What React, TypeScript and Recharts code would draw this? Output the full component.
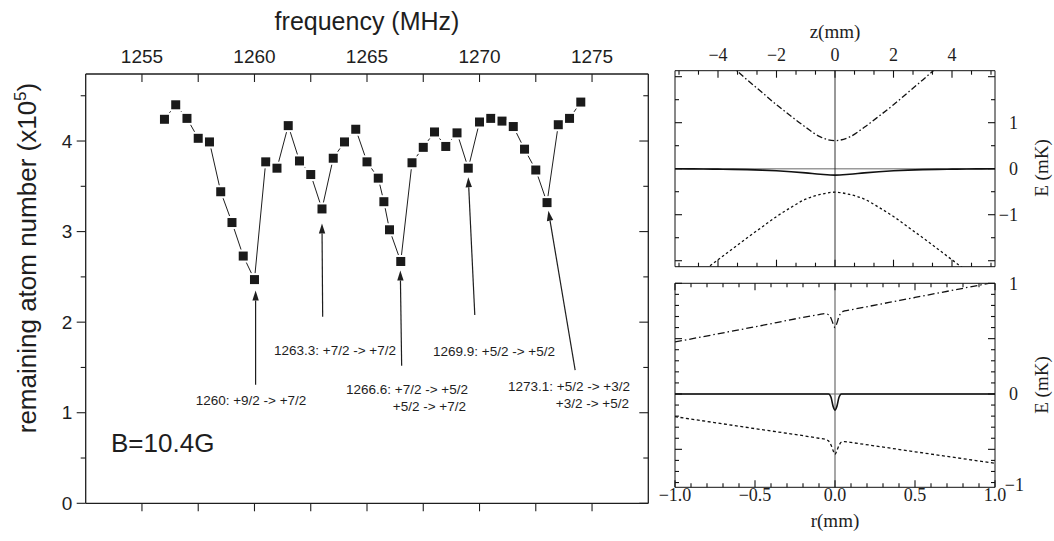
import React from "react";
import { ComposedChart, LineChart, Line, XAxis, YAxis, ReferenceLine } from "recharts";

// main panel: remaining atoms vs rf frequency
const freqs = [
  1256, 1256.5, 1257, 1257.5, 1258, 1258.5, 1259, 1259.5, 1260, 1260.5, 1261, 1261.5, 1262,
  1262.5, 1263, 1263.5, 1264, 1264.5, 1265, 1265.5, 1265.75, 1266, 1266.5, 1267, 1267.5, 1268,
  1268.5, 1269, 1269.5, 1270, 1270.5, 1271, 1271.5, 1272, 1272.5, 1273, 1273.5, 1274, 1274.5,
];
const atoms = [
  4.24, 4.4, 4.25, 4.03, 3.99, 3.44, 3.1, 2.73, 2.47, 3.77, 3.7, 4.17, 3.78, 3.63, 3.25, 3.81,
  3.99, 4.13, 3.77, 3.59, 3.33, 3.02, 2.67, 3.76, 3.93, 4.1, 3.94, 4.09, 3.7, 4.21, 4.25, 4.22,
  4.16, 3.91, 3.68, 3.32, 4.18, 4.25, 4.43,
];
const freqTicks = [1255, 1257.5, 1260, 1262.5, 1265, 1267.5, 1270, 1272.5, 1275];
const atomTicks = [0, 0.5, 1, 1.5, 2, 2.5, 3, 3.5, 4, 4.5];

// arrows (tail -> head) and their transition labels
const arrowTailFreq = [1260.05, 1263.03, 1266.54, 1269.79, 1274.25];
const arrowTailAtoms = [1.31, 2.06, 1.52, 2.08, 1.47];
const arrowHeadFreq = [1260.05, 1263.0, 1266.48, 1269.5, 1273.06];
const arrowHeadAtoms = [2.35, 3.09, 2.57, 3.6, 3.23];
const transitionLabels = [
  ["1260: +9/2 -> +7/2"],
  ["1263.3: +7/2 -> +7/2"],
  ["1266.6: +7/2 -> +5/2", "+5/2 -> +7/2"],
  ["1269.9: +5/2 -> +5/2"],
  ["1273.1: +5/2 -> +3/2", "+3/2 -> +5/2"],
];

// upper right: potential along z
const zVals = [-5.5, -5, -4.5, -4, -3.5, -3, -2.5, -2, -1.5, -1, -0.5, 0, 0.5, 1, 1.5, 2, 2.5, 3, 3.5, 4, 4.5, 5, 5.5];
const zUpper = [3.37, 3.08, 2.79, 2.5, 2.21, 1.93, 1.66, 1.39, 1.14, 0.9, 0.69, 0.61, 0.69, 0.9, 1.14, 1.39, 1.66, 1.93, 2.21, 2.5, 2.79, 3.08, 3.37];
const zMiddle = [0, -0.003, -0.006, -0.01, -0.014, -0.02, -0.03, -0.045, -0.065, -0.09, -0.12, -0.14, -0.12, -0.09, -0.065, -0.045, -0.03, -0.02, -0.014, -0.01, -0.006, -0.003, 0];
const zLower = [-2.7, -2.46, -2.22, -1.98, -1.74, -1.5, -1.27, -1.04, -0.84, -0.66, -0.56, -0.51, -0.56, -0.66, -0.84, -1.04, -1.27, -1.5, -1.74, -1.98, -2.22, -2.46, -2.7];
const zTicks = [-5.333, -4.667, -4, -3.333, -2.667, -2, -1.333, -0.667, 0, 0.667, 1.333, 2, 2.667, 3.333, 4, 4.667, 5.333];
const eTopTicks = [-2, -1.5, -1, -0.5, 0, 0.5, 1, 1.5, 2];

// lower right: potential along r
const rVals = [-1, -0.5, -0.1, -0.06, -0.04, -0.025, -0.012, 0, 0.012, 0.025, 0.04, 0.06, 0.1, 0.5, 1];
const rUpper = [0.47, 0.607, 0.717, 0.726, 0.715, 0.685, 0.635, 0.6, 0.64, 0.7, 0.735, 0.75, 0.761, 0.872, 1.01];
const rMiddle = [0, 0, 0, 0, 0, -0.03, -0.11, -0.145, -0.11, -0.03, 0, 0, 0, 0, 0];
const rLower = [-0.205, -0.313, -0.4, -0.41, -0.425, -0.46, -0.51, -0.545, -0.51, -0.465, -0.435, -0.43, -0.438, -0.522, -0.626];
const rTicks = [-1, -0.9, -0.8, -0.7, -0.6, -0.5, -0.4, -0.3, -0.2, -0.1, 0, 0.1, 0.2, 0.3, 0.4, 0.5, 0.6, 0.7, 0.8, 0.9, 1];
const eBottomTicks = [-0.8, -0.7, -0.6, -0.5, -0.4, -0.3, -0.2, -0.1, 0, 0.1, 0.2, 0.3, 0.4, 0.5, 0.6, 0.7, 0.8, 0.9, 1];

const SANS = "'Liberation Sans', Arial, Helvetica, sans-serif";
const SERIF = "'Liberation Serif', 'Times New Roman', serif";
const INK = "#1e1e1e";

const minus = (s: string) => s.replace("-", "\u2212");

type Side = "top" | "bottom" | "left" | "right";

// tickSize/tickMargin are 0, so (x, y) is the point on the axis line
function makeTick(
  side: Side,
  inward: boolean,
  isMajor: (v: number) => boolean,
  majorLen: number,
  minorLen: number,
  label: ((v: number) => string | null) | null,
  gap: number,
  font: string,
  size: number,
  stroke: string,
  anchor = "middle"
) {
  return (props: any) => {
    const { x, y, payload } = props;
    const v = payload.value as number;
    const len = isMajor(v) ? majorLen : minorLen;
    const s = inward ? 1 : -1;
    let x2 = x;
    let y2 = y;
    if (side === "top") y2 = y + s * len;
    if (side === "bottom") y2 = y - s * len;
    if (side === "left") x2 = x + s * len;
    if (side === "right") x2 = x - s * len;
    const text = label ? label(v) : null;
    let tx = x;
    let ty = y;
    let ta = anchor;
    if (side === "top") ty = y - gap;
    if (side === "bottom") ty = y + gap;
    if (side === "left") {
      tx = x - gap;
      ta = "end";
      ty = y + size * 0.35;
    }
    if (side === "right") {
      tx = x + gap;
      ty = y + size * 0.35;
    }
    return (
      <g>
        {len > 0 && <line x1={x} y1={y} x2={x2} y2={y2} stroke={stroke} strokeWidth={1.1} />}
        {text && (
          <text x={tx} y={ty} textAnchor={ta} fontFamily={font} fontSize={size} fill={INK}>
            {text}
          </text>
        )}
      </g>
    );
  };
}

const isInt = (v: number) => Math.abs(v - Math.round(v)) < 1e-3;
const isHalf = (v: number) => Math.abs(v * 2 - Math.round(v * 2)) < 1e-3;

const SquareDot = (props: any) => {
  const { cx, cy, index } = props;
  if (cx == null || cy == null) return <g key={`d-${index}`} />;
  return (
    <g key={`d-${index}`}>
      <rect x={cx - 6.5} y={cy - 6.5} width={13} height={13} fill="#fff" />
      <rect x={cx - 4.5} y={cy - 4.5} width={9} height={9} fill="#1a1a1a" />
    </g>
  );
};

const Arrow = (p: any) => {
  const { x1, y1, x2, y2 } = p;
  const dx = x2 - x1;
  const dy = y2 - y1;
  const len = Math.hypot(dx, dy) || 1;
  const ux = dx / len;
  const uy = dy / len;
  const hl = 10;
  const hw = 3.2;
  const bx = x2 - ux * hl;
  const by = y2 - uy * hl;
  return (
    <g>
      <line x1={x1} y1={y1} x2={bx} y2={by} stroke={INK} strokeWidth={1.2} />
      <polygon
        points={`${x2},${y2} ${bx - uy * hw},${by + ux * hw} ${bx + uy * hw},${by - ux * hw}`}
        fill={INK}
      />
    </g>
  );
};

// pixel anchors for the transition texts [x, y baseline, anchor]
const labelSpots: [number, number, string][][] = [
  [[251, 405, "middle"]],
  [[335, 355, "middle"]],
  [[468, 394, "end"], [466, 411, "end"]],
  [[494, 356, "middle"]],
  [[630, 391, "end"], [629, 408, "end"]],
];

export default function App() {
  const mainRows = freqs.map((f, i) => ({ f, n: atoms[i] }));
  const zRows = zVals.map((z, i) => ({ z, up: zUpper[i], mid: zMiddle[i], lo: zLower[i] }));
  const rRows = rVals.map((r, i) => ({ r, up: rUpper[i], mid: rMiddle[i], lo: rLower[i] }));

  const mainAxisLine = { stroke: INK, strokeWidth: 1.3 };
  const panelAxisLine = { stroke: "#111", strokeWidth: 1 };
  const all = () => true;

  // every axis is 1px thick, so margins are the plot edges minus 1
  return (
    <div style={{ position: "absolute", left: 0, top: 0, width: 1054, height: 541, background: "#fff" }}>
      {/* main chart */}
      <div style={{ position: "absolute", left: 0, top: 0 }}>
        <ComposedChart
          width={1054}
          height={541}
          data={mainRows}
          margin={{ top: 73, right: 404.7, bottom: 36.7, left: 84.7 }}
        >
          <XAxis
            xAxisId="top"
            orientation="top"
            dataKey="f"
            type="number"
            domain={[1252.5, 1277.5]}
            allowDataOverflow
            ticks={freqTicks}
            interval={0}
            height={1}
            tickSize={0}
            tickMargin={0}
            tickLine={false}
            axisLine={mainAxisLine}
            tick={makeTick("top", true, all, 8, 8, (v) => (isInt(v / 5) ? String(v) : null), 11, SANS, 19, INK)}
          />
          <XAxis
            xAxisId="bottom"
            orientation="bottom"
            dataKey="f"
            type="number"
            domain={[1252.5, 1277.5]}
            allowDataOverflow
            ticks={freqTicks}
            interval={0}
            height={1}
            tickSize={0}
            tickMargin={0}
            tickLine={false}
            axisLine={mainAxisLine}
            tick={makeTick("bottom", false, all, 8, 8, null, 0, SANS, 19, INK)}
          />
          <YAxis
            yAxisId="left"
            orientation="left"
            type="number"
            domain={[0, 4.74]}
            allowDataOverflow
            ticks={atomTicks}
            interval={0}
            width={1}
            tickSize={0}
            tickMargin={0}
            tickLine={false}
            axisLine={mainAxisLine}
            tick={makeTick("left", false, isInt, 9, 5, (v) => (isInt(v) ? String(v) : null), 13.4, SANS, 19, INK)}
          />
          <YAxis
            yAxisId="right"
            orientation="right"
            type="number"
            domain={[0, 4.74]}
            allowDataOverflow
            ticks={atomTicks}
            interval={0}
            width={1}
            tickSize={0}
            tickMargin={0}
            tickLine={false}
            axisLine={mainAxisLine}
            tick={makeTick("right", true, isInt, 9, 5, null, 0, SANS, 19, INK)}
          />
          {arrowTailFreq.map((f, i) => (
            <ReferenceLine
              key={`arrow-${i}`}
              xAxisId="top"
              yAxisId="left"
              segment={[
                { x: f, y: arrowTailAtoms[i] },
                { x: arrowHeadFreq[i], y: arrowHeadAtoms[i] },
              ]}
              ifOverflow="visible"
              shape={Arrow}
            />
          ))}
          <Line
            xAxisId="top"
            yAxisId="left"
            dataKey="n"
            type="linear"
            stroke={INK}
            strokeWidth={1}
            dot={SquareDot}
            activeDot={false}
            isAnimationActive={false}
          />
        </ComposedChart>
      </div>

      {/* upper right: E(z) */}
      <div style={{ position: "absolute", left: 0, top: 0 }}>
        <LineChart width={1054} height={541} data={zRows} margin={{ top: 69.7, right: 58, bottom: 273.3, left: 674 }}>
          <XAxis
            xAxisId="t"
            orientation="top"
            dataKey="z"
            type="number"
            domain={[-5.47, 5.47]}
            allowDataOverflow
            ticks={zTicks}
            interval={0}
            height={1}
            tickSize={0}
            tickMargin={0}
            tickLine={false}
            axisLine={panelAxisLine}
            tick={makeTick(
              "top",
              true,
              (v) => isInt(v / 2),
              7,
              4,
              (v) => (isInt(v / 2) ? minus(String(Math.round(v))) : null),
              10,
              SERIF,
              18,
              "#111"
            )}
          />
          <XAxis
            xAxisId="b"
            orientation="bottom"
            dataKey="z"
            type="number"
            domain={[-5.47, 5.47]}
            allowDataOverflow
            ticks={zTicks}
            interval={0}
            height={1}
            tickSize={0}
            tickMargin={0}
            tickLine={false}
            axisLine={panelAxisLine}
            tick={makeTick("bottom", true, (v) => isInt(v / 2), 7, 4, null, 0, SERIF, 18, "#111")}
          />
          <YAxis
            yAxisId="l"
            orientation="left"
            type="number"
            domain={[-2.13, 2.13]}
            allowDataOverflow
            ticks={eTopTicks}
            interval={0}
            width={1}
            tickSize={0}
            tickMargin={0}
            tickLine={false}
            axisLine={panelAxisLine}
            tick={makeTick("left", true, isInt, 7, 4, null, 0, SERIF, 18, "#111")}
          />
          <YAxis
            yAxisId="r"
            orientation="right"
            type="number"
            domain={[-2.13, 2.13]}
            allowDataOverflow
            ticks={eTopTicks}
            interval={0}
            width={1}
            tickSize={0}
            tickMargin={0}
            tickLine={false}
            axisLine={panelAxisLine}
            tick={makeTick(
              "right",
              true,
              isInt,
              7,
              4,
              (v) => (isInt(v) && Math.abs(v) <= 1 ? minus(String(Math.round(v))) : null),
              23,
              SERIF,
              18,
              "#111",
              "end"
            )}
          />
          <ReferenceLine xAxisId="t" yAxisId="r" y={0} stroke="#9a9a9a" strokeWidth={1.6} />
          <ReferenceLine xAxisId="t" yAxisId="r" x={0} stroke="#333" strokeWidth={1} />
          <Line xAxisId="t" yAxisId="r" dataKey="up" type="monotone" stroke="#111" strokeWidth={1.3}
            strokeDasharray="6 2.5 1.5 2.5" dot={false} activeDot={false} isAnimationActive={false} />
          <Line xAxisId="t" yAxisId="r" dataKey="mid" type="monotone" stroke="#111" strokeWidth={1.6}
            dot={false} activeDot={false} isAnimationActive={false} />
          <Line xAxisId="t" yAxisId="r" dataKey="lo" type="monotone" stroke="#111" strokeWidth={1.3}
            strokeDasharray="2.5 2.5" dot={false} activeDot={false} isAnimationActive={false} />
        </LineChart>
      </div>

      {/* lower right: E(r) */}
      <div style={{ position: "absolute", left: 0, top: 0 }}>
        <LineChart width={1054} height={541} data={rRows} margin={{ top: 282.3, right: 58, bottom: 52.7, left: 674 }}>
          <XAxis
            xAxisId="t"
            orientation="top"
            dataKey="r"
            type="number"
            domain={[-1, 1]}
            allowDataOverflow
            ticks={rTicks}
            interval={0}
            height={1}
            tickSize={0}
            tickMargin={0}
            tickLine={false}
            axisLine={panelAxisLine}
            tick={makeTick("top", true, isHalf, 7, 4, null, 0, SERIF, 18, "#111")}
          />
          <XAxis
            xAxisId="b"
            orientation="bottom"
            dataKey="r"
            type="number"
            domain={[-1, 1]}
            allowDataOverflow
            ticks={rTicks}
            interval={0}
            height={1}
            tickSize={0}
            tickMargin={0}
            tickLine={false}
            axisLine={panelAxisLine}
            tick={makeTick(
              "bottom",
              true,
              isHalf,
              7,
              4,
              (v) => (isHalf(v) ? minus(v.toFixed(1)) : null),
              14,
              SERIF,
              18,
              "#111"
            )}
          />
          <YAxis
            yAxisId="l"
            orientation="left"
            type="number"
            domain={[-0.843, 1]}
            allowDataOverflow
            ticks={eBottomTicks}
            interval={0}
            width={1}
            tickSize={0}
            tickMargin={0}
            tickLine={false}
            axisLine={panelAxisLine}
            tick={makeTick("left", true, isHalf, 7, 4, null, 0, SERIF, 18, "#111")}
          />
          <YAxis
            yAxisId="r"
            orientation="right"
            type="number"
            domain={[-0.843, 1]}
            allowDataOverflow
            ticks={eBottomTicks}
            interval={0}
            width={1}
            tickSize={0}
            tickMargin={0}
            tickLine={false}
            axisLine={panelAxisLine}
            tick={makeTick(
              "right",
              true,
              isHalf,
              7,
              4,
              (v) => (isInt(v) ? String(Math.round(v)) : null),
              23,
              SERIF,
              18,
              "#111",
              "end"
            )}
          />
          <ReferenceLine xAxisId="t" yAxisId="r" y={0} stroke="#9a9a9a" strokeWidth={1.6} />
          <ReferenceLine xAxisId="t" yAxisId="r" x={0} stroke="#777" strokeWidth={1.3} />
          <Line xAxisId="t" yAxisId="r" dataKey="up" type="monotone" stroke="#111" strokeWidth={1.3}
            strokeDasharray="7 3 1.5 3" dot={false} activeDot={false} isAnimationActive={false} />
          <Line xAxisId="t" yAxisId="r" dataKey="mid" type="monotone" stroke="#111" strokeWidth={1.6}
            dot={false} activeDot={false} isAnimationActive={false} />
          <Line xAxisId="t" yAxisId="r" dataKey="lo" type="monotone" stroke="#111" strokeWidth={1.3}
            strokeDasharray="3 2.5" dot={false} activeDot={false} isAnimationActive={false} />
        </LineChart>
      </div>

      {/* titles and annotation text */}
      <svg width={1054} height={541} style={{ position: "absolute", left: 0, top: 0, pointerEvents: "none" }}>
        <text x={367} y={30} textAnchor="middle" fontFamily={SANS} fontSize={25} fill={INK}>
          frequency (MHz)
        </text>
        <text transform="translate(36,258) rotate(-90)" textAnchor="middle" fontFamily={SANS} fontSize={26} fill={INK}>
          remaining atom number (x10
          <tspan dy={-10} fontSize={17}>5</tspan>
          <tspan dy={10}>)</tspan>
        </text>
        <text x={111} y={452} fontFamily={SANS} fontSize={26} fill={INK}>
          B=10.4G
        </text>
        {transitionLabels.map((lines, i) =>
          lines.map((t, j) => (
            <text
              key={`lab-${i}-${j}`}
              x={labelSpots[i][j][0]}
              y={labelSpots[i][j][1]}
              textAnchor={labelSpots[i][j][2] as any}
              fontFamily={SANS}
              fontSize={13.5}
              fill={INK}
            >
              {t}
            </text>
          ))
        )}
        <text x={835} y={38} textAnchor="middle" fontFamily={SERIF} fontSize={19} fill={INK}>
          z(mm)
        </text>
        <text x={835} y={527} textAnchor="middle" fontFamily={SERIF} fontSize={19} fill={INK}>
          r(mm)
        </text>
        <text transform="translate(1048,168) rotate(-90)" textAnchor="middle" fontFamily={SERIF} fontSize={19} fill={INK}>
          E (mK)
        </text>
        <text transform="translate(1048,385) rotate(-90)" textAnchor="middle" fontFamily={SERIF} fontSize={19} fill={INK}>
          E (mK)
        </text>
        <text x={1024} y={491} textAnchor="end" fontFamily={SERIF} fontSize={18} fill={INK}>
          {"\u22121"}
        </text>
      </svg>
    </div>
  );
}
